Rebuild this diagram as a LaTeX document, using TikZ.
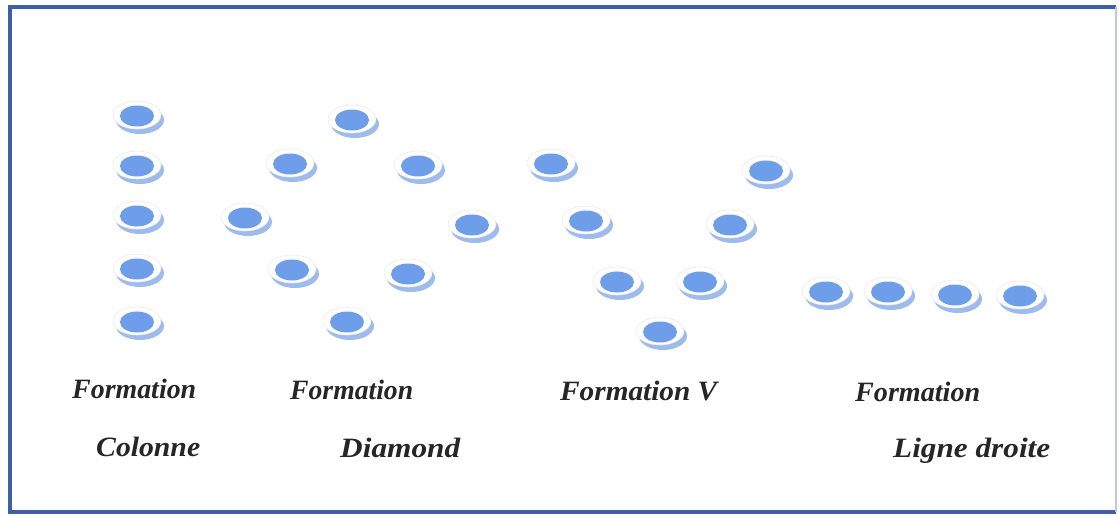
\documentclass[tikz,border=0pt]{standalone}
\usepackage{fontspec}
\usepackage{graphicx}
\setmainfont{Liberation Serif}
\definecolor{frameblue}{HTML}{3F5FA8}
\definecolor{discblue}{HTML}{6E9EEA}
\definecolor{shadowblue}{HTML}{9DBCEB}
\newcommand{\fitw}[2]{\resizebox{#1pt}{\height}{#2}}
\begin{document}
\begin{tikzpicture}[x=1pt,y=-1pt,
  lbl/.style={font=\fontsize{28}{30}\selectfont\bfseries\itshape, text=black!85, inner sep=0pt},
  disc/.pic={
    \fill[shadowblue] (3,4) ellipse [x radius=24, y radius=14];
    \fill[white] (0,-1) ellipse [x radius=24, y radius=14];
    \draw[black!8, line width=0.6] (0,-1) ellipse [x radius=24, y radius=14];
    \fill[discblue] (0,0) ellipse [x radius=17, y radius=10.5];
  }]
\useasboundingbox (0,0) rectangle (1119,515);
\fill[white] (0,0) rectangle (1119,515);
% frame
\draw[frameblue, line width=4] (1116,7) -- (10,7) -- (10,512) -- (1116,512);
\draw[frameblue!35, line width=2] (1116,7) -- (1116,512);
% Colonne
\foreach \y [count=\i] in {116,166,216,269,322}
  \pic (c\i) at (137,\y) {disc};
% Diamond
\foreach \p [count=\i] in {(352,120),(290,164),(418,166),(245,218),(472,225),(292,270),(408,274),(347,322)}
  \pic (d\i) at \p {disc};
% V
\foreach \p [count=\i] in {(551,164),(586,221),(617,282),(660,332),(700,282),(730,225),(766,171)}
  \pic (v\i) at \p {disc};
% Ligne droite
\foreach \p [count=\i] in {(826,292),(888,292),(955,295),(1020,296)}
  \pic (l\i) at \p {disc};
% labels
\node[lbl, anchor=west] (t1) at (72,389) {\fitw{124}{Formation}};
\node[lbl, anchor=west] (t2) at (96,447) {\fitw{104}{Colonne}};
\node[lbl, anchor=west] (t3) at (290,390) {\fitw{123}{Formation}};
\node[lbl, anchor=west] (t4) at (340,448) {\fitw{120}{Diamond}};
\node[lbl, anchor=west] (t5) at (560,391) {\fitw{157}{Formation V}};
\node[lbl, anchor=west] (t6) at (855,392) {\fitw{125}{Formation}};
\node[lbl, anchor=west] (t7) at (893,451) {\fitw{157}{Ligne droite}};
\end{tikzpicture}
\end{document}
